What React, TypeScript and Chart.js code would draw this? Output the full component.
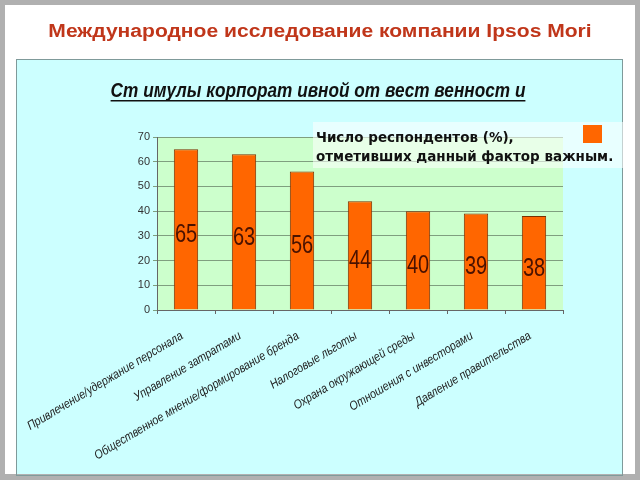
import React, { useEffect, useRef } from "react";
import { Chart, registerables } from "chart.js";

Chart.register(...registerables);

const pageTitle = "Международное исследование компании Ipsos Mori";
const chartTitle = "Ст имулы корпорат ивной от вест венност и";
const legendLines = ["Число респондентов (%),", "отметивших данный фактор важным."];
const categories = [
  "Привлечение/удержание персонала",
  "Управление затратами",
  "Общественное мнение/формирование бренда",
  "Налоговые льготы",
  "Охрана окружающей среды",
  "Отношения с инвесторами",
  "Давление правительства",
];
const values = [65, 63, 56, 44, 40, 39, 38];
const yTicks = [0, 10, 20, 30, 40, 50, 60, 70];

const SANS = "'Liberation Sans', Arial, sans-serif";

function scaledText(ctx: any, text: string, x: number, y: number, sx: number, align: string) {
  ctx.save();
  ctx.translate(x, y);
  ctx.scale(sx, 1);
  ctx.textAlign = align;
  ctx.fillText(text, 0, 0);
  ctx.restore();
}

const framePlugin = {
  id: "frame",
  beforeDraw(chart: any) {
    const ctx = chart.ctx;
    ctx.save();
    ctx.fillStyle = "#b0b0b0";
    ctx.fillRect(0, 0, 640, 480);
    ctx.fillStyle = "#ffffff";
    ctx.fillRect(5, 5, 630, 469);
    ctx.fillStyle = "#ccffff";
    ctx.fillRect(16, 59, 607, 415);
    ctx.strokeStyle = "#7f9a9a";
    ctx.lineWidth = 1;
    ctx.strokeRect(16.5, 59.5, 606, 416);
    // page title
    ctx.fillStyle = "#c0361a";
    ctx.font = "bold 18px " + SANS;
    ctx.textBaseline = "alphabetic";
    scaledText(ctx, pageTitle, 320, 37, 1.17, "center");
    // chart title
    ctx.fillStyle = "#111111";
    ctx.font = "italic bold 21px " + SANS;
    const sx = 0.82;
    scaledText(ctx, chartTitle, 318, 97, sx, "center");
    const w = ctx.measureText(chartTitle).width * sx;
    ctx.fillRect(318 - w / 2, 100, w, 1.5);
    // plot background
    const a = chart.chartArea;
    ctx.fillStyle = "#ccffcc";
    ctx.fillRect(a.left, a.top, a.right - a.left, a.bottom - a.top);
    ctx.restore();
  },
  afterDraw(chart: any) {
    const ctx = chart.ctx;
    ctx.save();
    // x tick labels
    const xs = chart.scales.x;
    ctx.fillStyle = "#222222";
    ctx.font = "italic 12.5px " + SANS;
    ctx.textBaseline = "middle";
    categories.forEach((c, i) => {
      const px = xs.getPixelForTick(i);
      ctx.save();
      ctx.translate(px - 4, xs.top + 25);
      ctx.rotate((-31 * Math.PI) / 180);
      ctx.scale(0.86, 1);
      ctx.textAlign = "right";
      ctx.fillText(c, 0, 0);
      ctx.restore();
    });
    // legend box
    ctx.fillStyle = "rgba(255,255,255,0.55)";
    ctx.fillRect(313, 122, 310, 46);
    ctx.fillStyle = "#ff6600";
    ctx.fillRect(583, 125, 19, 18);
    ctx.fillStyle = "#111111";
    ctx.font = "bold 13.5px 'DejaVu Sans', sans-serif";
    ctx.textAlign = "left";
    ctx.textBaseline = "alphabetic";
    ctx.fillText(legendLines[0], 316, 142);
    ctx.fillText(legendLines[1], 316, 161);
    ctx.restore();
  },
};

const labelPlugin = {
  id: "barLabels",
  afterDatasetsDraw(chart: any) {
    const ctx = chart.ctx;
    const meta = chart.getDatasetMeta(0);
    ctx.save();
    ctx.fillStyle = "#4a1200";
    ctx.font = "25px " + SANS;
    ctx.textBaseline = "middle";
    meta.data.forEach((bar: any, i: number) => {
      const y = (bar.y + bar.base) / 2 + 6;
      scaledText(ctx, String(values[i]), bar.x, y, 0.8, "center");
    });
    ctx.restore();
  },
};

export default function App() {
  const ref = useRef<HTMLCanvasElement>(null);
  useEffect(() => {
    const chart = new Chart(ref.current!, {
      type: "bar",
      data: {
        labels: categories,
        datasets: [
          {
            data: values,
            backgroundColor: "#ff6600",
            borderColor: "#7a3000",
            borderWidth: 1,
            categoryPercentage: 1,
            barPercentage: 0.42,
          },
        ],
      },
      options: {
        animation: false,
        responsive: false,
        layout: { padding: { top: 137, right: 77, left: 0, bottom: 0 } },
        plugins: { legend: { display: false }, tooltip: { enabled: false } },
        scales: {
          x: {
            afterFit: (s: any) => {
              s.height = 170;
            },
            grid: { drawOnChartArea: false, color: "#666", tickLength: 4, offset: true },
            border: { color: "#666" },
            ticks: { display: false, autoSkip: false },
          },
          y: {
            min: 0,
            max: 70,
            afterFit: (s: any) => {
              s.width = 157;
            },
            afterBuildTicks: (s: any) => {
              s.ticks = yTicks.map((v) => ({ value: v }));
            },
            grid: { color: "#7f9f7f", tickLength: 4 },
            border: { color: "#666" },
            ticks: {
              color: "#333",
              font: { family: SANS, size: 11 },
              padding: 3,
            },
          },
        },
      },
      plugins: [framePlugin, labelPlugin],
    });
    return () => chart.destroy();
  }, []);
  return (
    <div style={{ position: "fixed", left: 0, top: 0, width: 640, height: 480 }}>
      <canvas ref={ref} width={640} height={480} style={{ display: "block" }} />
    </div>
  );
}
